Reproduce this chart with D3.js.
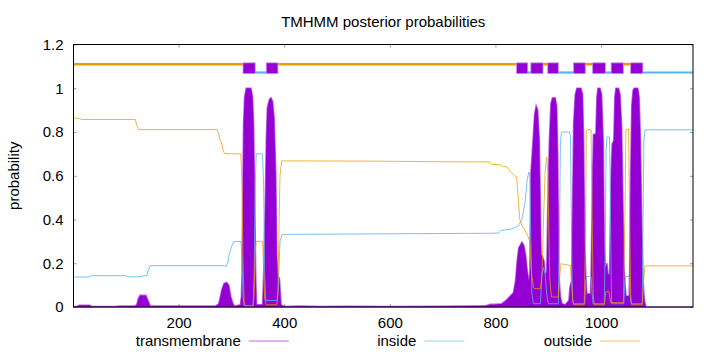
<!DOCTYPE html>
<html>
<head>
<meta charset="utf-8">
<script src="https://cdn.jsdelivr.net/npm/d3@7"></script>
<style>
    body { margin: 0; background: #fff; }
    svg { display: block; font-family: "Liberation Sans", Arial, sans-serif; }
</style>
</head>
<body>
<div class="main_content"></div>
<script>
// sequence length and tick values
const seqLength = 1174;
const xTicks = [200, 400, 600, 800, 1000];
const yTicks = [0, 0.2, 0.4, 0.6, 0.8, 1, 1.2];
const seriesNames = ['transmembrane', 'inside', 'outside'];

// posterior probabilities, [residue, probability]
const tmProb = [
    [1, 0], [8, 0.003], [12, 0.008], [32, 0.008], [36, 0.002], [80, 0.002], [88, 0.004], [118, 0.005],
    [121, 0.012], [124, 0.04], [127, 0.053], [138, 0.053], [142, 0.03], [146, 0.005], [270, 0.004],
    [276, 0.015], [279, 0.046], [282, 0.08], [286, 0.107], [291, 0.112], [295, 0.1], [299, 0.046],
    [303, 0.015], [306, 0.003], [317, 0.01], [319, 0.05], [320, 0.15], [322, 0.61], [323, 0.84],
    [325, 0.96], [328, 1.0], [337, 1.0], [340, 0.96], [342, 0.84], [344, 0.53], [346, 0.15], [347.5, 0.01],
    [359, 0.01], [361, 0.15], [364, 0.46], [366, 0.76], [368, 0.91], [372, 0.95], [375, 0.956],
    [378, 0.94], [381, 0.86], [384, 0.61], [386, 0.23], [388, 0.14], [391, 0.13], [394, 0.01],
    [400, 0.002], [430, 0.004], [470, 0.002], [520, 0.003], [600, 0.002], [700, 0.003], [780, 0.005],
    [790, 0.012], [799, 0.012], [812, 0.015], [820, 0.03], [828, 0.05], [834, 0.065], [838, 0.12],
    [841, 0.21], [844, 0.27], [850, 0.297], [854, 0.28], [857, 0.24], [860, 0.17], [863, 0.12],
    [865, 0.15], [867, 0.61], [871, 0.76], [874, 0.88], [877, 0.92], [880, 0.9], [883, 0.76],
    [885, 0.46], [886.5, 0.24], [889, 0.23], [892, 0.21], [894, 0.15], [897, 0.16], [899, 0.46],
    [902, 0.76], [905, 0.93], [908, 0.956], [913, 0.956], [916, 0.92], [918, 0.69], [920, 0.15],
    [923, 0.046], [926, 0.015], [932, 0.01], [939, 0.03], [941, 0.09], [944, 0.12], [946, 0.46],
    [948, 0.84], [951, 0.97], [954, 1.0], [962, 1.0], [965, 0.97], [967, 0.76], [969, 0.3],
    [971, 0.15], [973, 0.06], [980, 0.06], [981, 0.15], [984, 0.61], [985.5, 0.79], [990, 0.79],
    [992, 0.96], [994, 1.0], [998, 1.0], [1001, 0.97], [1004, 0.76], [1006, 0.3], [1008, 0.18],
    [1011, 0.2], [1013, 0.15], [1016, 0.15], [1017, 0.3], [1019, 0.61], [1021, 0.745], [1024, 0.76],
    [1026, 0.96], [1028, 1.0], [1033, 1.0], [1036, 0.97], [1039, 0.82], [1041.5, 0.46], [1043.5, 0.17],
    [1047, 0.05], [1053, 0.05], [1054, 0.15], [1056, 0.61], [1058, 0.92], [1060.5, 0.99], [1062.5, 1.0],
    [1069.5, 1.0], [1072, 0.96], [1074.5, 0.76], [1077, 0.38], [1079.5, 0.12], [1082, 0.03],
    [1085, 0], [1174, 0]
];

const insideProb = [
    [1, 0.137], [30, 0.137], [34, 0.143], [100, 0.143], [105, 0.138], [125, 0.138], [135, 0.143],
    [140, 0.143], [143, 0.17], [146, 0.189], [286, 0.189], [290, 0.185], [293, 0.2], [295, 0.23],
    [298, 0.26], [301, 0.28], [304, 0.299], [318, 0.3], [320, 0.22], [322, 0.05], [324, 0.005],
    [341, 0.005], [343, 0.15], [345, 0.55], [347, 0.7], [359, 0.7], [361, 0.55], [363, 0.15],
    [365, 0.03], [387, 0.03], [389, 0.1], [392, 0.3], [396, 0.332], [560, 0.334], [700, 0.336],
    [790, 0.337], [806, 0.338], [810, 0.35], [828, 0.355], [843, 0.37], [850, 0.4], [856, 0.48],
    [860, 0.58], [863, 0.617], [865, 0.6], [867, 0.3], [869, 0.06], [872, 0.015], [885, 0.015],
    [888, 0.15], [891, 0.18], [894, 0.15], [897, 0.06], [900, 0.015], [919, 0.015], [921, 0.3],
    [923, 0.76], [925, 0.8], [940, 0.8], [942, 0.78], [943.5, 0.45], [945, 0.12], [946, 0.03],
    [948, 0.015], [969, 0.015], [971, 0.12], [973, 0.14], [981, 0.14], [983, 0.06], [985, 0.015],
    [1006, 0.015], [1008, 0.3], [1009.5, 0.72], [1011, 0.777], [1016, 0.777], [1017, 0.61],
    [1019, 0.15], [1020, 0.015], [1043, 0.015], [1045, 0.12], [1047, 0.14], [1053, 0.14],
    [1055, 0.05], [1057, 0.015], [1078, 0.015], [1079, 0.3], [1081, 0.76], [1083, 0.81], [1174, 0.81]
];

const outsideProb = [
    [1, 0.864], [12, 0.862], [16, 0.857], [118, 0.857], [121, 0.83], [124, 0.811], [273, 0.811],
    [276, 0.79], [279, 0.76], [282, 0.745], [284, 0.72], [287, 0.701], [318, 0.7], [320, 0.55],
    [322, 0.2], [324, 0.03], [326, 0.005], [341, 0.005], [343, 0.06], [345, 0.25], [347, 0.3],
    [359, 0.3], [361, 0.18], [363, 0.04], [366, 0.01], [386, 0.01], [388, 0.06], [390, 0.35],
    [392, 0.6], [395, 0.668], [560, 0.667], [700, 0.664], [789, 0.663], [793, 0.652], [810, 0.65],
    [814, 0.643], [822, 0.64], [828, 0.62], [836, 0.6], [840, 0.595], [843, 0.5], [846, 0.4],
    [850, 0.374], [856, 0.35], [862, 0.32], [865, 0.3], [868, 0.16], [872, 0.09], [874, 0.084],
    [885, 0.084], [888, 0.15], [891, 0.4], [894, 0.62], [897, 0.686], [899, 0.62], [901, 0.35],
    [903, 0.12], [906, 0.046], [919, 0.046], [921, 0.12], [924, 0.198], [930, 0.195], [942, 0.19],
    [944, 0.12], [946, 0.04], [948, 0.01], [968, 0.01], [970, 0.25], [972, 0.8], [974, 0.811],
    [981, 0.811], [983, 0.4], [985, 0.06], [987, 0.01], [1006, 0.01], [1009, 0.07], [1015, 0.07],
    [1018, 0.02], [1042, 0.02], [1045, 0.4], [1047, 0.81], [1052, 0.815], [1054, 0.4], [1056, 0.05],
    [1058, 0.01], [1078, 0.01], [1080, 0.1], [1083, 0.188], [1174, 0.188]
];

// predicted topology shown across the top, [from, to]
const outsideSegs = [[1, 322], [388, 840], [890, 899], [970, 984], [1042, 1056]];
const insideSegs = [[345, 366], [861, 867], [919, 948], [1008, 1019], [1079, 1174]];
const tmSegs = [[322, 345], [366, 388], [840, 861], [867, 890], [899, 919],
    [948, 970], [984, 1008], [1019, 1042], [1056, 1079]];

const colors = {transmembrane: '#9400d3', inside: '#56b4e9', outside: '#e69f00'};

class TmhmmChart {
    constructor() {
        this.width = 720;
        this.height = 352;
        this.plot = {left: 73.5, top: 44.5, right: 693, bottom: 307};
        this.fontSize = '15px';
    }

    render() {
        this.svg = d3.select('.main_content')
            .append('svg')
            .attr('width', this.width)
            .attr('height', this.height);

        this.x = d3.scaleLinear().domain([1, seqLength]).range([this.plot.left, this.plot.right]);
        this.y = d3.scaleLinear().domain([0, 1.2]).range([this.plot.bottom, this.plot.top]);

        this.drawAxes();
        this.drawSeries();
        this.drawTopology();
        this.drawBorder();
        this.drawText();
        this.drawLegend();
    }

    drawAxes() {
        let p = this.plot;
        let style = g => {
            g.attr('font-family', null);
            g.select('.domain').remove();
            g.selectAll('.tick line').attr('stroke', '#999');
            g.selectAll('.tick text').attr('fill', '#000').style('font-size', this.fontSize);
        };
        this.svg.append('g')
            .attr('transform', `translate(0,${p.bottom})`)
            .call(d3.axisBottom(this.x).tickValues(xTicks).tickSize(-3).tickPadding(10).tickFormat(d => String(d)))
            .call(style);
        this.svg.append('g')
            .attr('transform', `translate(0,${p.top})`)
            .call(d3.axisTop(this.x).tickValues(xTicks).tickSize(-3).tickFormat(''))
            .call(style);
        this.svg.append('g')
            .attr('transform', `translate(${p.left},0)`)
            .call(d3.axisLeft(this.y).tickValues(yTicks).tickSize(-3).tickPadding(10).tickFormat(d => String(d)))
            .call(style);
        this.svg.append('g')
            .attr('transform', `translate(${p.right},0)`)
            .call(d3.axisRight(this.y).tickValues(yTicks).tickSize(-3).tickFormat(''))
            .call(style);
    }

    drawSeries() {
        let area = d3.area()
            .x(d => this.x(d[0]))
            .y0(this.y(0))
            .y1(d => this.y(d[1]));
        let line = d3.line()
            .x(d => this.x(d[0]))
            .y(d => this.y(d[1]));

        // impulses look like a filled area with a soft edge
        this.svg.append('path')
            .datum(tmProb)
            .attr('d', area)
            .attr('fill', colors.transmembrane)
            .attr('stroke', colors.transmembrane)
            .attr('stroke-opacity', 0.6)
            .attr('stroke-width', 1.6);

        this.svg.append('path')
            .datum(insideProb)
            .attr('d', line)
            .attr('fill', 'none')
            .attr('stroke', colors.inside)
            .attr('stroke-opacity', 0.8)
            .attr('stroke-width', 1);

        this.svg.append('path')
            .datum(outsideProb)
            .attr('d', line)
            .attr('fill', 'none')
            .attr('stroke', colors.outside)
            .attr('stroke-opacity', 0.75)
            .attr('stroke-width', 1);
    }

    drawTopology() {
        let g = this.svg.append('g');
        g.selectAll('.out').data(outsideSegs).enter().append('line')
            .attr('x1', d => this.x(d[0])).attr('x2', d => this.x(d[1]))
            .attr('y1', this.y(1.11)).attr('y2', this.y(1.11))
            .attr('stroke', colors.outside).attr('stroke-width', 2.6);
        g.selectAll('.in').data(insideSegs).enter().append('line')
            .attr('x1', d => this.x(d[0])).attr('x2', d => this.x(d[1]))
            .attr('y1', this.y(1.072)).attr('y2', this.y(1.072))
            .attr('stroke', colors.inside).attr('stroke-width', 2.2);
        g.selectAll('rect').data(tmSegs).enter().append('rect')
            .attr('x', d => this.x(d[0]))
            .attr('width', d => this.x(d[1]) - this.x(d[0]))
            .attr('y', this.y(1.116))
            .attr('height', this.y(1.067) - this.y(1.116))
            .attr('fill', colors.transmembrane)
            .attr('stroke', '#c58be6')
            .attr('stroke-width', 0.8);
    }

    drawBorder() {
        let p = this.plot;
        this.svg.append('rect')
            .attr('x', p.left)
            .attr('y', p.top)
            .attr('width', p.right - p.left)
            .attr('height', p.bottom - p.top)
            .style('stroke', '#000')
            .style('fill', 'none')
            .style('stroke-width', 1);
    }

    drawText() {
        let p = this.plot;
        this.svg.append('text')
            .attr('x', (p.left + p.right) / 2)
            .attr('y', 27)
            .attr('text-anchor', 'middle')
            .style('font-size', this.fontSize)
            .text('TMHMM posterior probabilities');
        this.svg.append('text')
            .attr('transform', `translate(19,${(p.top + p.bottom) / 2}) rotate(-90)`)
            .attr('text-anchor', 'middle')
            .style('font-size', this.fontSize)
            .text('probability');
    }

    drawLegend() {
        let ends = [240.8, 416.4, 592];
        let g = this.svg.append('g');
        seriesNames.forEach((name, i) => {
            g.append('text')
                .attr('x', ends[i])
                .attr('y', 346)
                .attr('text-anchor', 'end')
                .style('font-size', this.fontSize)
                .text(name);
            g.append('line')
                .attr('x1', ends[i] + 8).attr('x2', ends[i] + 48)
                .attr('y1', 341).attr('y2', 341)
                .attr('stroke', colors[name])
                .attr('stroke-opacity', 0.6)
                .attr('stroke-width', 1);
        });
    }
}

let chart = new TmhmmChart();
chart.render();
</script>
</body>
</html>
